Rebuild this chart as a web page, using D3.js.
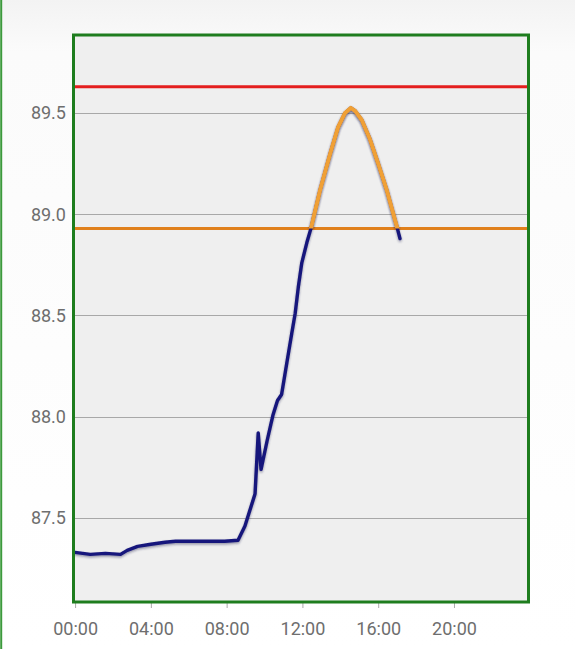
<!DOCTYPE html>
<html>
<head>
<meta charset="utf-8">
<script src="https://cdn.jsdelivr.net/npm/d3@7"></script>
<style>
	html, body { margin: 0; padding: 0; }
	body { width: 575px; height: 649px; overflow: hidden; background: #fff; }
	svg { display: block; font-family: Roboto, "Noto Sans", sans-serif; }
</style>
</head>
<body>
<svg id="chart" width="575" height="649"></svg>
<script>
// readings of the day, time of day and value
const times = ["00:00","00:48","01:36","02:24","02:45","03:18","04:00","04:45","05:18","06:36","07:54","08:36",
	"08:58","09:30","09:40","09:49","10:08","10:27","10:41","10:54","11:10","11:26","11:37","11:47","11:58",
	"12:14","12:27","12:56","13:28","13:53","14:15","14:33","14:47","15:08","15:34","16:00","16:27","16:59","17:09"]
const values = [87.33,87.32,87.325,87.32,87.34,87.36,87.37,87.38,87.385,87.385,87.385,87.39,
	87.46,87.62,87.92,87.74,87.88,88.01,88.08,88.11,88.26,88.41,88.51,88.64,88.76,
	88.86,88.93,89.12,89.30,89.43,89.50,89.525,89.51,89.465,89.37,89.25,89.12,88.94,88.88]

const upperLimit = 89.63   // red
const warnLimit = 88.93    // orange
const yTicks = [87.5, 88.0, 88.5, 89.0, 89.5]
const xTickLabels = ["00:00","04:00","08:00","12:00","16:00","20:00"]

const svg = d3.select("#chart")
const box = {x0: 73.5, x1: 528.5, y0: 35, y1: 602}

const parse = d3.timeParse("%H:%M")
const data = times.map((t, i) => ({t: parse(t), v: values[i]}))
const day = parse("00:00")

const x = d3.scaleTime()
	.domain([d3.timeMinute.offset(day, -5), d3.timeMinute.offset(day, 23*60 + 56)])
	.range([box.x0, box.x1])
const y = d3.scaleLinear().domain([87.085, 89.885]).range([box.y1, box.y0])

// page backdrop
const defs = svg.append("defs")
const bg = defs.append("linearGradient").attr("id", "pageBg").attr("x1", 0).attr("x2", 0).attr("y1", 0).attr("y2", 1)
bg.append("stop").attr("offset", "0").attr("stop-color", "#f3f3f3")
bg.append("stop").attr("offset", "0.08").attr("stop-color", "#fbfbfb")
bg.append("stop").attr("offset", "1").attr("stop-color", "#ffffff")
svg.append("rect").attr("width", 575).attr("height", 649).attr("fill", "url(#pageBg)")
svg.append("line").attr("x1", 1.2).attr("x2", 1.2).attr("y1", 0).attr("y2", 649)
	.attr("stroke", "#3c9a3c").attr("stroke-width", 2)

defs.append("filter").attr("id", "shadow").attr("x", "-10%").attr("y", "-10%").attr("width", "120%").attr("height", "120%")
	.append("feDropShadow").attr("dx", 0).attr("dy", 1.5).attr("stdDeviation", 1.3)
	.attr("flood-color", "#202050").attr("flood-opacity", 0.45)

defs.append("clipPath").attr("id", "plotClip").append("rect")
	.attr("x", box.x0).attr("y", box.y0).attr("width", box.x1 - box.x0).attr("height", box.y1 - box.y0)
defs.append("clipPath").attr("id", "aboveWarn").append("rect")
	.attr("x", box.x0).attr("y", box.y0).attr("width", box.x1 - box.x0).attr("height", y(warnLimit) - box.y0)

svg.append("rect")
	.attr("x", box.x0).attr("y", box.y0).attr("width", box.x1 - box.x0).attr("height", box.y1 - box.y0)
	.attr("fill", "#efefef")

// grid
svg.append("g").selectAll("line")
	.data(yTicks)
	.enter().append("line")
	.attr("x1", box.x0).attr("x2", box.x1)
	.attr("y1", d => Math.round(y(d)) + 0.5).attr("y2", d => Math.round(y(d)) + 0.5)
	.attr("stroke", "#a8a8a8").attr("stroke-width", 1)

// y labels
svg.append("g").selectAll("text")
	.data(yTicks)
	.enter().append("text")
	.attr("x", 66).attr("y", d => y(d)).attr("dy", "0.35em")
	.attr("text-anchor", "end").attr("font-size", 18).attr("fill", "#6e6e6e")
	.text(d3.format(".1f"))

// x axis
const xAxis = d3.axisBottom(x)
	.tickValues(xTickLabels.map(parse))
	.tickFormat(d3.timeFormat("%H:%M"))
	.tickSize(6).tickPadding(14)
const gx = svg.append("g").attr("transform", `translate(0,${box.y1})`).call(xAxis)
gx.select(".domain").remove()
gx.selectAll(".tick line").attr("stroke", "#aaa")
gx.selectAll(".tick text").attr("font-size", 18).attr("fill", "#6e6e6e").attr("font-family", "Roboto, sans-serif")

// limits
const plot = svg.append("g").attr("clip-path", "url(#plotClip)")
plot.append("line").attr("x1", box.x0).attr("x2", box.x1)
	.attr("y1", y(upperLimit)).attr("y2", y(upperLimit))
	.attr("stroke", "#e41e1e").attr("stroke-width", 3)
plot.append("line").attr("x1", box.x0).attr("x2", box.x1)
	.attr("y1", y(warnLimit)).attr("y2", y(warnLimit))
	.attr("stroke", "#e0801c").attr("stroke-width", 3)

const path = d3.line().x(d => x(d.t)).y(d => y(d.v))

plot.append("path").datum(data)
	.attr("d", path)
	.attr("fill", "none").attr("stroke", "#17177c").attr("stroke-width", 3.4)
	.attr("stroke-linejoin", "round").attr("stroke-linecap", "round")
	.attr("filter", "url(#shadow)")

// same line, orange where it sits above the warning limit
plot.append("g").attr("clip-path", "url(#aboveWarn)")
	.append("path").datum(data)
	.attr("d", path)
	.attr("fill", "none").attr("stroke", "#f0a036").attr("stroke-width", 4)
	.attr("stroke-linejoin", "round").attr("stroke-linecap", "round")
	.attr("filter", "url(#shadow)")

// frame
svg.append("rect")
	.attr("x", box.x0).attr("y", box.y0).attr("width", box.x1 - box.x0).attr("height", box.y1 - box.y0)
	.attr("fill", "none").attr("stroke", "#1e7d1e").attr("stroke-width", 3)
</script>
</body>
</html>
